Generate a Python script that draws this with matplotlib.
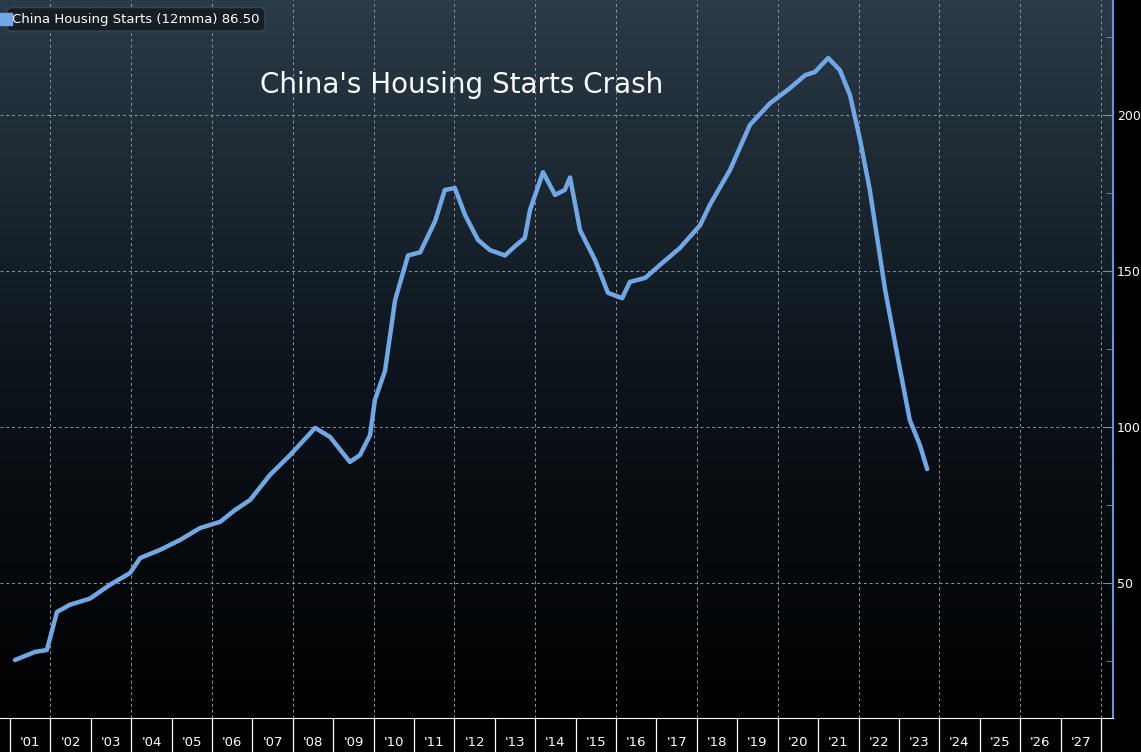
import matplotlib
matplotlib.use("Agg")
from matplotlib import pyplot as plt
import numpy as np

years = [2001.12, 2001.37, 2001.62, 2001.91, 2002.16, 2002.48, 2002.98, 2003.47, 2003.97, 2004.22,
         2004.71, 2005.21, 2005.70, 2006.20, 2006.57, 2006.94, 2007.43, 2007.93, 2008.55, 2008.92,
         2009.41, 2009.66, 2009.91, 2010.03, 2010.28, 2010.53, 2010.85, 2011.15, 2011.52, 2011.76,
         2012.01, 2012.26, 2012.58, 2012.88, 2013.25, 2013.50, 2013.74, 2013.87, 2014.19, 2014.49,
         2014.73, 2014.86, 2015.11, 2015.48, 2015.80, 2016.15, 2016.34, 2016.72, 2017.09, 2017.58,
         2018.08, 2018.32, 2018.82, 2019.31, 2019.81, 2020.30, 2020.68, 2020.92, 2021.25, 2021.54,
         2021.79, 2022.04, 2022.28, 2022.66, 2023.03, 2023.27, 2023.52, 2023.70]
starts = [25.3, 26.6, 27.9, 28.5, 40.7, 43.0, 45.0, 49.4, 53.2, 58.0,
          60.6, 63.8, 67.6, 69.6, 73.4, 76.6, 84.6, 91.0, 99.7, 96.8,
          88.8, 91.0, 97.4, 108.7, 118.0, 140.7, 155.0, 156.0, 166.0, 176.0,
          176.6, 168.0, 160.0, 156.7, 155.0, 158.0, 160.6, 169.6, 181.7, 174.4,
          176.0, 180.0, 163.0, 153.5, 143.0, 141.3, 146.5, 147.8, 152.0, 157.4,
          164.7, 171.2, 182.4, 196.8, 203.8, 208.6, 212.8, 213.8, 218.3, 214.4,
          206.4, 192.0, 176.0, 143.9, 118.3, 102.2, 94.2, 86.5]
year_labels = ["'%02d" % (y % 100) for y in range(2001, 2028)]

W, H = 1141, 752
fig = plt.figure(figsize=(W / 100, H / 100), dpi=100, facecolor="black")
ax = fig.add_axes([0, 34 / H, 1113 / W, 718 / H])
x0, x1 = 2000.75, 2000.75 + 1113 / 40.4
y0, y1 = 6.7, 236.9

# background gradient
grad = np.linspace(0, 1, 256).reshape(-1, 1)
cmap = matplotlib.colors.LinearSegmentedColormap.from_list("bg", ["#000000", "#0d151c", "#2b3b47"])
ax.imshow(grad, extent=[x0, x1, y0, y1], origin="lower", aspect="auto", cmap=cmap, zorder=0)

for yr in range(2002, 2029, 2):
    ax.axvline(yr, color="#8a96a0", lw=0.7, ls=(0, (3, 3)), zorder=1)
for v in [50, 100, 150, 200]:
    ax.axhline(v, color="#8a96a0", lw=0.7, ls=(0, (3, 3)), zorder=1)

ax.plot(years, starts, color="#6fa8e6", lw=3.2, solid_capstyle="round", zorder=3)

ax.text(2007.18, 209.5, "China's Housing Starts Crash", color="white", fontsize=20,
        va="center", zorder=4)

# legend box
ax.text(2001.05, 230.7, "China Housing Starts (12mma) 86.50", color="white", fontsize=9.5,
        va="center", zorder=5,
        bbox=dict(boxstyle="round,pad=0.4", fc="#161d24", ec="#3a4550"))
ax.plot([2000.9], [230.7], marker="s", ms=8, color="#6fa8e6", zorder=6)

for s in ["top", "left"]:
    ax.spines[s].set_visible(False)
ax.spines["right"].set_color("#6f8fc8")
ax.spines["right"].set_linewidth(1.5)
ax.spines["bottom"].set_color("white")
ax.yaxis.tick_right()
ax.set_yticks([50, 100, 150, 200])
ax.set_yticks([25, 75, 125, 175, 225], minor=True)
ax.tick_params(axis="y", which="major", colors="white", labelsize=9, length=6, direction="in", pad=3)
ax.tick_params(axis="y", which="minor", colors="#6f8fc8", length=5, direction="in")
ax.tick_params(axis="y", which="major", color="#6f8fc8")

# year separators as major ticks, labels on minor ticks
ax.set_xticks(range(2001, 2029))
ax.set_xticklabels([])
ax.set_xticks([y + 0.5 for y in range(2001, 2028)], minor=True)
ax.set_xticklabels(year_labels, minor=True)
ax.tick_params(axis="x", which="major", color="white", length=34, width=0.9, direction="out")
ax.tick_params(axis="x", which="minor", length=0, colors="white", labelsize=9.5, pad=13)

ax.set_xlim(x0, x1)
ax.set_ylim(y0, y1)
fig.savefig("out.png", dpi=100, facecolor="black")
